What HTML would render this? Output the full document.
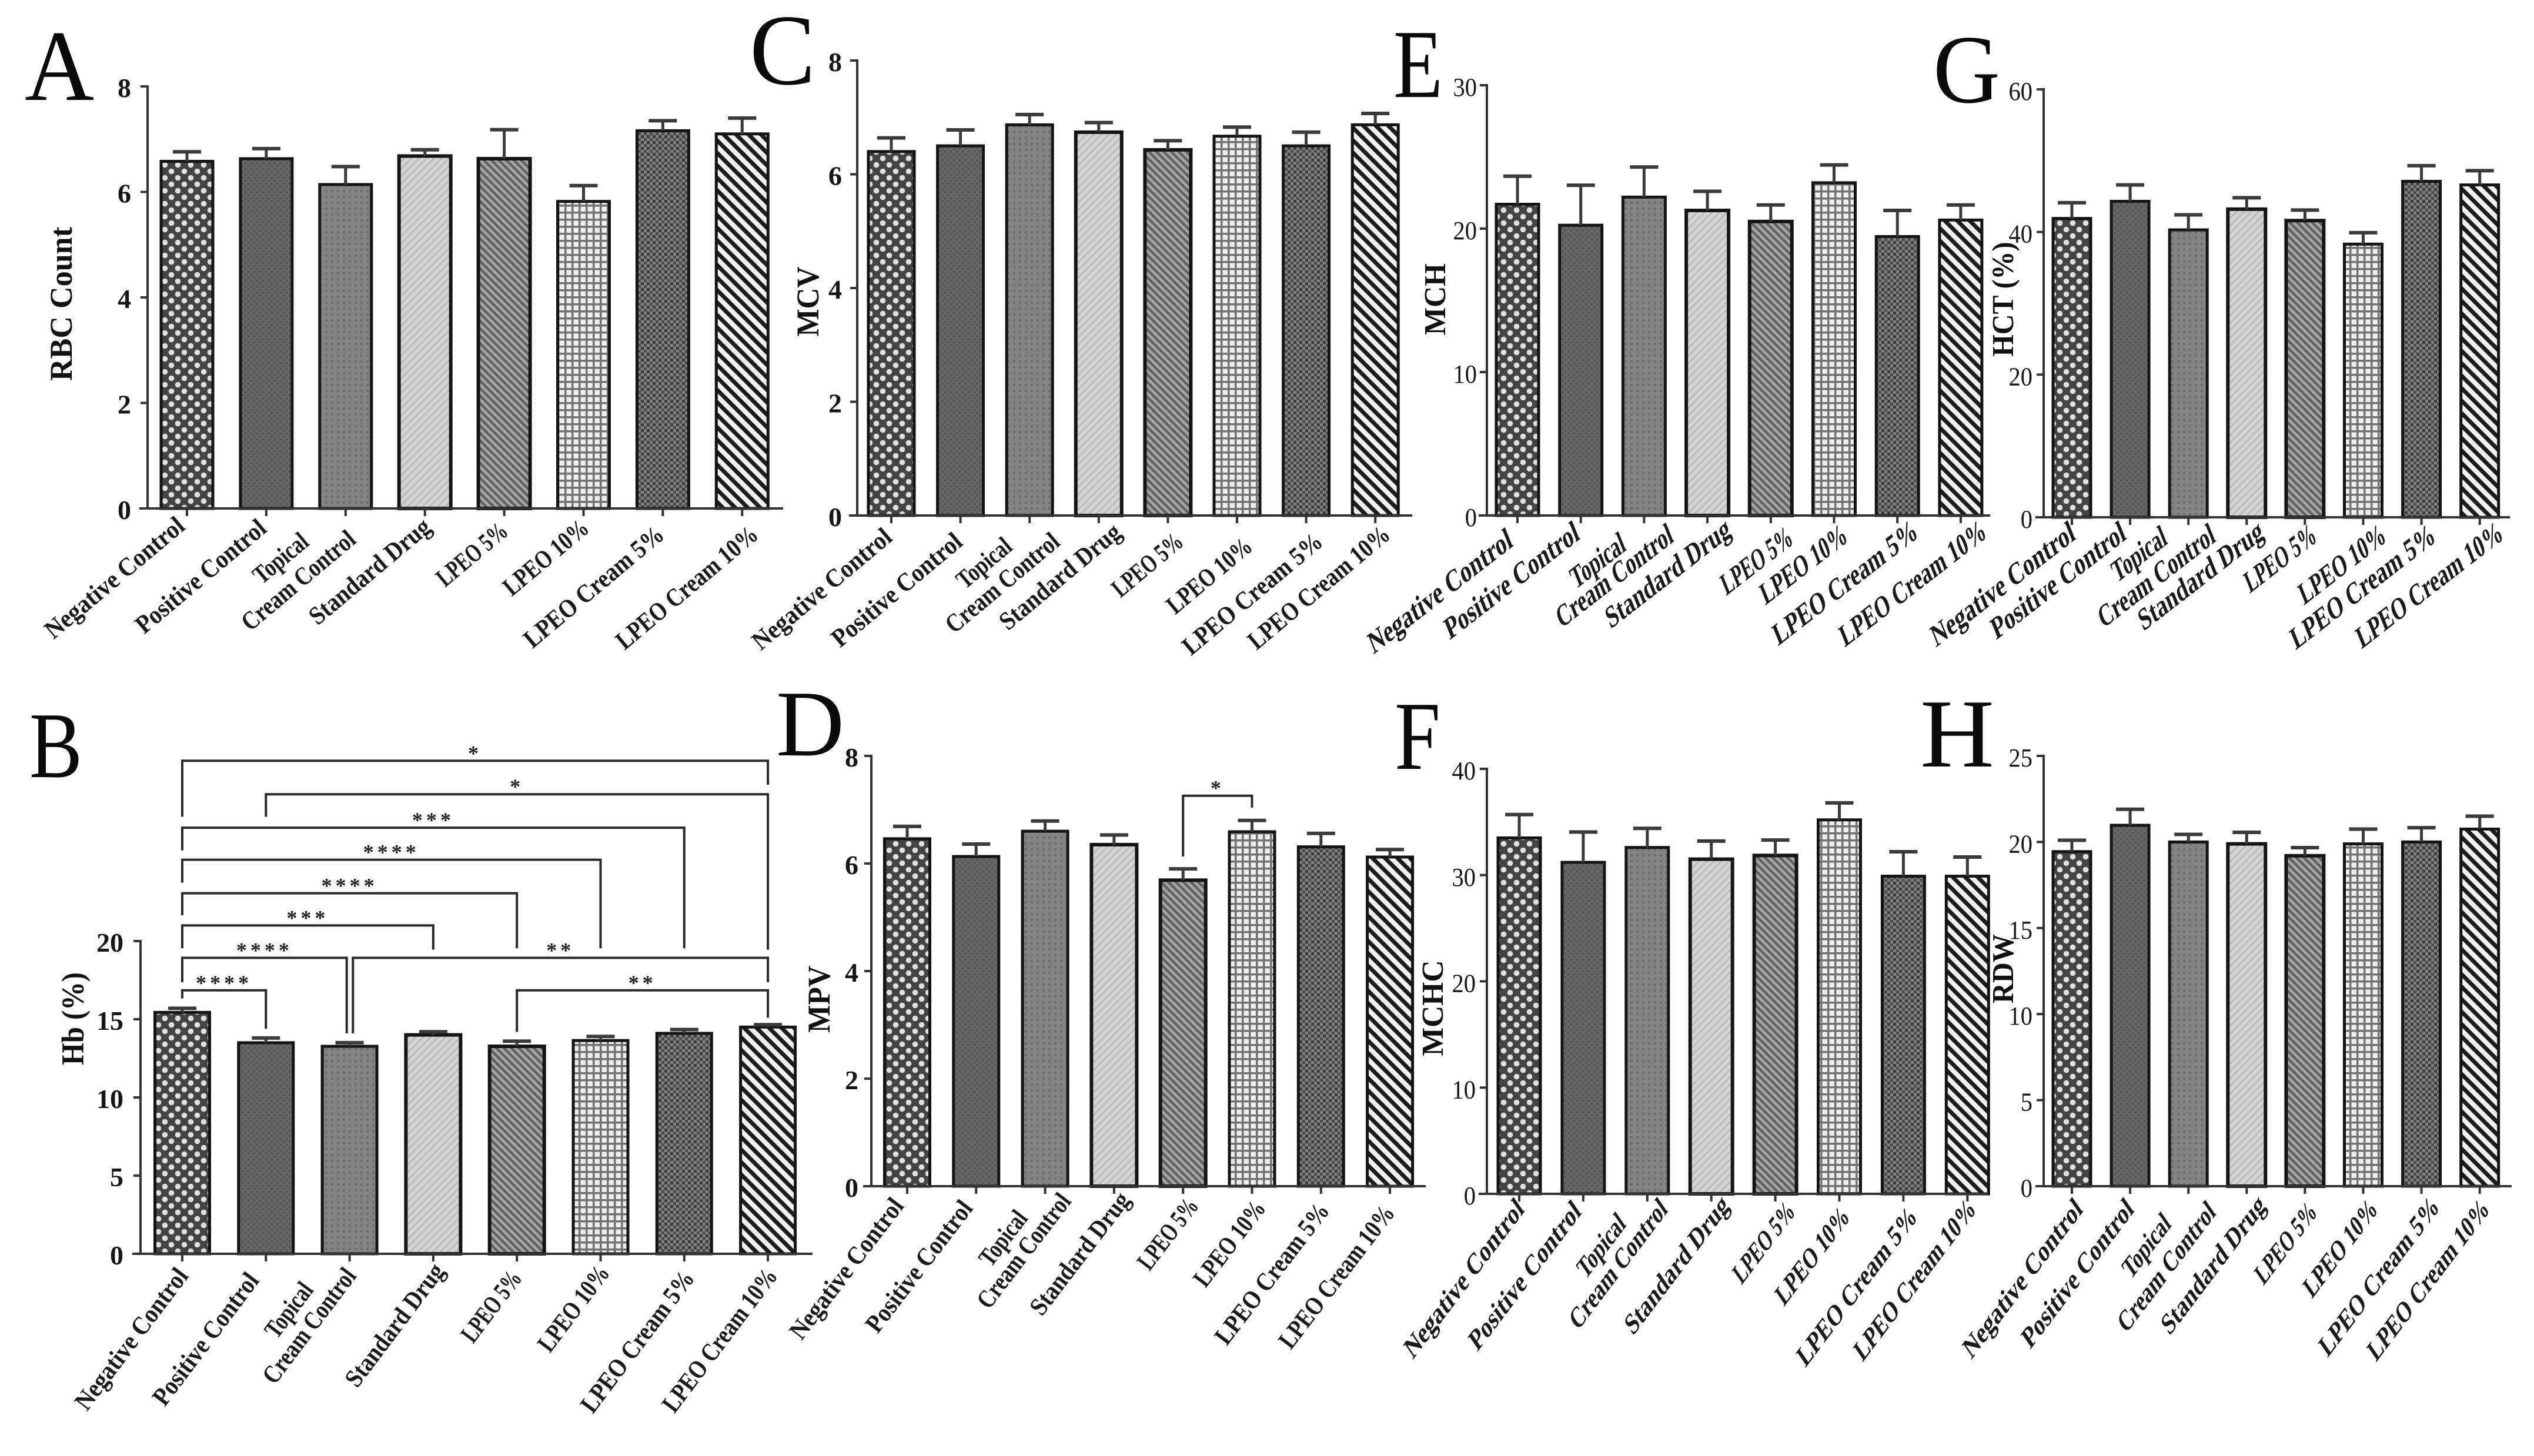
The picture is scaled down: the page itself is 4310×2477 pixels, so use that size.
<!DOCTYPE html>
<html lang="en">
<head>
<meta charset="utf-8">
<title>Hematology parameters bar charts</title>
<style>
html,body{margin:0;padding:0;background:#fff;}
#figure{display:block;width:4310px;height:2477px;background:#fff;font-family:"Liberation Serif",serif;}
.panel-letter{font-family:"Liberation Serif",serif;fill:#0a0a0a;}
.tick-text{fill:#161616;}
.cat-text{font-weight:700;fill:#1a1a1a;}
.axis-title{font-weight:700;fill:#111;}
</style>
</head>
<body>
<svg id="figure" xmlns="http://www.w3.org/2000/svg" width="4310" height="2477" viewBox="0 0 4310 2477">
<defs>
<pattern id="pat-0" patternUnits="userSpaceOnUse" width="22" height="22"><rect width="22" height="22" fill="#444"/><circle cx="5.5" cy="5.5" r="4.8" fill="#e0e0e0"/><circle cx="16.5" cy="16.5" r="4.8" fill="#e0e0e0"/></pattern>
<pattern id="pat-1" patternUnits="userSpaceOnUse" width="10" height="10"><rect width="10" height="10" fill="#666"/><circle cx="2.5" cy="2.5" r="2" fill="#545454"/><circle cx="7.5" cy="7.5" r="2" fill="#545454"/></pattern>
<pattern id="pat-2" patternUnits="userSpaceOnUse" width="10" height="10"><rect width="10" height="10" fill="#848484"/><circle cx="5" cy="5" r="2.4" fill="#6e6e6e"/></pattern>
<pattern id="pat-3" patternUnits="userSpaceOnUse" width="9" height="9" patternTransform="rotate(45)"><rect width="9" height="9" fill="#d4d4d4"/><rect width="3" height="9" fill="#bcbcbc"/></pattern>
<pattern id="pat-4" patternUnits="userSpaceOnUse" width="9" height="9" patternTransform="rotate(-45)"><rect width="9" height="9" fill="#a6a6a6"/><rect width="4.5" height="9" fill="#626262"/></pattern>
<pattern id="pat-5" patternUnits="userSpaceOnUse" width="12" height="12"><rect width="12" height="12" fill="#eee"/><rect width="12" height="3.5" fill="#727272"/><rect width="3.5" height="12" fill="#727272"/></pattern>
<pattern id="pat-6" patternUnits="userSpaceOnUse" width="10" height="10"><rect width="10" height="10" fill="#808080"/><rect width="5" height="5" fill="#3c3c3c"/><rect x="5" y="5" width="5" height="5" fill="#4c4c4c"/></pattern>
<pattern id="pat-7" patternUnits="userSpaceOnUse" width="15" height="15" patternTransform="rotate(-45)"><rect width="15" height="15" fill="#f2f2f2"/><rect width="7" height="15" fill="#1c1c1c"/></pattern>
</defs>

<text class="panel-letter" x="42" y="170" font-size="172" textLength="118" lengthAdjust="spacingAndGlyphs">A</text>
<text class="panel-letter" x="50" y="1322" font-size="160" textLength="90" lengthAdjust="spacingAndGlyphs">B</text>
<text class="panel-letter" x="1275" y="143" font-size="172" textLength="112" lengthAdjust="spacingAndGlyphs">C</text>
<text class="panel-letter" x="1320" y="1285" font-size="160" textLength="116" lengthAdjust="spacingAndGlyphs">D</text>
<text class="panel-letter" x="2370" y="165" font-size="166" textLength="84" lengthAdjust="spacingAndGlyphs">E</text>
<text class="panel-letter" x="2372" y="1308" font-size="166" textLength="78" lengthAdjust="spacingAndGlyphs">F</text>
<text class="panel-letter" x="3288" y="174" font-size="166" textLength="114" lengthAdjust="spacingAndGlyphs">G</text>
<text class="panel-letter" x="3266" y="1304" font-size="166" textLength="126" lengthAdjust="spacingAndGlyphs">H</text>
<g id="charts"></g>
</svg>
<script>
/* Shared categories */
const categories = [["Negative Control"],["Positive Control"],["Topical","Cream Control"],["Standard Drug"],["LPEO 5%"],["LPEO 10%"],["LPEO Cream 5%"],["LPEO Cream 10%"]];

/* Series means and upper error magnitudes */
const rbcMeans  = [6.58,6.63,6.14,6.68,6.63,5.82,7.16,7.10];
const rbcErrors = [0.18,0.19,0.34,0.12,0.55,0.30,0.19,0.30];
const rbcTicks  = [0,2,4,6,8];

const hbMeans  = [15.44,13.50,13.27,14.00,13.27,13.64,14.10,14.50];
const hbErrors = [0.26,0.30,0.23,0.20,0.33,0.26,0.24,0.15];
const hbTicks  = [0,5,10,15,20];

const mcvMeans  = [6.40,6.50,6.87,6.74,6.43,6.67,6.50,6.87];
const mcvErrors = [0.24,0.28,0.18,0.17,0.16,0.16,0.24,0.20];
const mcvTicks  = [0,2,4,6,8];

const mpvMeans  = [6.46,6.13,6.60,6.35,5.69,6.59,6.31,6.12];
const mpvErrors = [0.23,0.23,0.19,0.18,0.21,0.21,0.25,0.14];
const mpvTicks  = [0,2,4,6,8];

const mchMeans  = [21.7,20.24,22.2,21.27,20.5,23.2,19.45,20.6];
const mchErrors = [1.96,2.79,2.1,1.33,1.15,1.24,1.82,1.05];
const mchTicks  = [0,10,20,30];

const mchcMeans  = [33.5,31.2,32.6,31.5,31.85,35.2,29.9,29.9];
const mchcErrors = [2.2,2.85,1.8,1.7,1.45,1.6,2.3,1.8];
const mchcTicks  = [0,10,20,30,40];

const hctMeans  = [41.9,44.3,40.3,43.2,41.6,38.3,47.1,46.6];
const hctErrors = [2.2,2.3,2.1,1.6,1.47,1.6,2.2,2.0];
const hctTicks  = [0,20,40,60];

const rdwMeans  = [19.44,20.97,20.0,19.89,19.2,19.89,20.0,20.75];
const rdwErrors = [0.66,0.93,0.44,0.67,0.47,0.86,0.83,0.75];
const rdwTicks  = [0,5,10,15,20,25];

/* Significance brackets on the Hb panel, in category-index and Hb-value units */
const hbBracketFrom  = [0,1,0,0,0,0,0,2.04,0,4];
const hbBracketTo    = [7,7,6,5,4,3,1.966,7,1,7];
const hbBracketLevel = [31.53,29.39,27.25,25.2,23.06,21.0,18.93,18.93,16.85,16.85];
const hbBracketLeftEnd  = [27.95,27.95,25.8,23.73,21.65,19.54,17.37,14.1,16.33,14.19];
const hbBracketRightEnd = [30.0,19.45,19.54,19.54,19.54,19.45,14.1,17.37,14.4,15.1];
const hbBracketStars = ["*","*","***","****","****","***","****","**","****","**"];

/* Significance bracket on the MPV panel */
const mpvBracketFrom  = [4];
const mpvBracketTo    = [5];
const mpvBracketLevel = [7.26];
const mpvBracketLeftEnd  = [6.13];
const mpvBracketRightEnd = [7.04];
const mpvBracketStars = ["*"];

const NS = "http://www.w3.org/2000/svg";
const root = document.getElementById("charts");
const labelBaseLengths = [295,275,108,238,255,143,175,296,300];

function make(tag, attrs, parent, text) {
  const el = document.createElementNS(NS, tag);
  for (const k in attrs) el.setAttribute(k, attrs[k]);
  if (text !== undefined) el.textContent = text;
  parent.appendChild(el);
  return el;
}

function drawBrackets(g, xScale, yScale, from, to, level, leftEnd, rightEnd, stars) {
  from.forEach((f, i) => {
    const x1 = xScale(f), x2 = xScale(to[i]), y = yScale(level[i]);
    const path = make("path", {
      d: "M" + x1 + " " + yScale(leftEnd[i]) + "V" + y + "H" + x2 + "V" + yScale(rightEnd[i]),
      fill: "none", stroke: "#2a2a2a", "stroke-width": 4
    }, g);
    
    
    const star = make("text", {
      x: (x1 + x2) / 2, y: y - 1, "text-anchor": "middle", "font-size": 36,
      "font-weight": 700, fill: "#222", "letter-spacing": 6
    }, g, stars[i]);
    
    
  });
}

function drawPanel(cfg) {
  const g = make("g", {}, root);
  
  

  const maxTick = cfg.ticks[cfg.ticks.length - 1];
  const yScale = v => cfg.y0 - (cfg.y0 - cfg.yTop) * v / maxTick;
  const xScale = i => cfg.x0 + cfg.step * i;

  /* bars and error bars */
  cfg.means.forEach((m, i) => {
    const bar = make("rect", {
      x: xScale(i) - cfg.barW / 2, y: yScale(m), width: cfg.barW, height: cfg.y0 - yScale(m),
      fill: "url(#pat-" + i + ")", stroke: "#141414", "stroke-width": i === 3 || i === 4 ? 6 : 5
    }, g);
    
    

    const top = yScale(m + cfg.errors[i]);
    const stem = make("line", {
      x1: xScale(i), x2: xScale(i), y1: yScale(m), y2: top, stroke: "#3a3a3a", "stroke-width": 5
    }, g);
    
    

    const cap = make("line", {
      x1: xScale(i) - 24, x2: xScale(i) + 24, y1: top, y2: top, stroke: "#3a3a3a", "stroke-width": 6
    }, g);
    
    
  });

  /* axes */
  const yAxis = make("line", {
    x1: cfg.axisX, x2: cfg.axisX, y1: cfg.yTop - 2, y2: cfg.y0 + 2, stroke: "#333", "stroke-width": 4
  }, g);
  
  

  const xAxis = make("line", {
    x1: cfg.axisX - 14, x2: cfg.axisEnd, y1: cfg.y0, y2: cfg.y0, stroke: "#333", "stroke-width": 4
  }, g);
  
  

  /* y ticks */
  cfg.ticks.forEach(t => {
    const tick = make("line", {
      x1: cfg.axisX - 12, x2: cfg.axisX, y1: yScale(t), y2: yScale(t), stroke: "#333", "stroke-width": 4
    }, g);
    
    

    const label = make("text", {
      class: "tick-text", "text-anchor": "end", "font-size": cfg.tickSize,
      "font-weight": cfg.tickWeight,
      transform: "translate(" + (cfg.axisX - cfg.tickGap) + " " + (yScale(t) + 18) + ") scale(" + cfg.tickSx + " 1)"
    }, g, t);
    
    
  });

  /* category ticks and labels */
  let lineIndex = 0;
  categories.forEach((lines, i) => {
    const tick = make("line", {
      x1: xScale(i), x2: xScale(i), y1: cfg.y0, y2: cfg.y0 + 13, stroke: "#333", "stroke-width": 4
    }, g);
    
    

    lines.forEach(line => {
      const label = make("text", {
        class: "cat-text", "text-anchor": "end", "font-size": cfg.labelSize,
        textLength: labelBaseLengths[lineIndex] * cfg.labelK, lengthAdjust: "spacingAndGlyphs",
        transform: "translate(" + (xScale(i) + cfg.labelEndX[lineIndex]) + " " + (cfg.y0 + cfg.labelEndY[lineIndex]) + ") scale(" + cfg.sx + " 1) rotate(" + (-cfg.labelAngle) + ")"
      }, g, line);
      
      
      lineIndex++;
    });
  });

  /* y-axis title */
  const title = make("text", {
    class: "axis-title", "text-anchor": "middle", "font-size": cfg.titleSize,
    textLength: cfg.titleLen, lengthAdjust: "spacingAndGlyphs",
    transform: "translate(" + cfg.titleX + " " + cfg.titleY + ") rotate(-90)"
  }, g, cfg.title);
  
  

  if (cfg.brackets) {
    const b = cfg.brackets;
    drawBrackets(g, xScale, yScale, b[0], b[1], b[2], b[3], b[4], b[5]);
  }
}

drawPanel({name:"rbc", title:"RBC Count", means:rbcMeans, errors:rbcErrors, ticks:rbcTicks,
  axisX:251, axisEnd:1332, y0:865, yTop:147, x0:318, step:134.9, barW:88,
  tickSize:46, tickGap:28, tickWeight:700, tickSx:1, sx:1, labelSize:44, labelAngle:40, labelK:1,
  labelEndX:[-1,3,-60,20,13,9,12,5,30], labelEndY:[34,38,61,57,36,43,38,49,49],
  titleX:122, titleY:517, titleSize:54, titleLen:262});

drawPanel({name:"hb", title:"Hb (%)", means:hbMeans, errors:hbErrors, ticks:hbTicks,
  axisX:239, axisEnd:1382, y0:2133, yTop:1601, x0:310, step:142.3, barW:93,
  tickSize:46, tickGap:29, tickWeight:700, tickSx:1, sx:1, labelSize:44, labelAngle:53, labelK:0.98,
  labelEndX:[12,-10,-60,13,21,10,17,19,18], labelEndY:[38,46,62,38,30,42,33,42,38],
  titleX:142, titleY:1733, titleSize:54, titleLen:158,
  brackets:[hbBracketFrom,hbBracketTo,hbBracketLevel,hbBracketLeftEnd,hbBracketRightEnd,hbBracketStars]});

drawPanel({name:"mcv", title:"MCV", means:mcvMeans, errors:mcvErrors, ticks:mcvTicks,
  axisX:1458, axisEnd:2402, y0:877, yTop:103, x0:1516, step:117.6, barW:78,
  tickSize:46, tickGap:26, tickWeight:700, tickSx:1, sx:1, labelSize:44, labelAngle:40, labelK:1,
  labelEndX:[4,6,-27,54,41,29,29,31,28], labelEndY:[41,49,57,49,33,49,57,49,37],
  titleX:1392, titleY:513, titleSize:54, titleLen:119});

drawPanel({name:"mpv", title:"MPV", means:mpvMeans, errors:mpvErrors, ticks:mpvTicks,
  axisX:1482, axisEnd:2425, y0:2018, yTop:1286, x0:1543, step:117.3, barW:77,
  tickSize:46, tickGap:22, tickWeight:700, tickSx:1, sx:1, labelSize:44, labelAngle:52.6, labelK:0.98,
  labelEndX:[-4,-4,-28,46,29,28,25,16,10], labelEndY:[34,38,55,26,24,34,38,42,46],
  titleX:1411, titleY:1700, titleSize:54, titleLen:114,
  brackets:[mpvBracketFrom,mpvBracketTo,mpvBracketLevel,mpvBracketLeftEnd,mpvBracketRightEnd,mpvBracketStars]});

drawPanel({name:"mch", title:"MCH", means:mchMeans, errors:mchErrors, ticks:mchTicks,
  axisX:2529, axisEnd:3385, y0:877, yTop:145, x0:2581, step:107.7, barW:72,
  tickSize:44, tickGap:17, tickWeight:400, tickSx:0.92, sx:0.72, labelSize:54, labelAngle:29.2, labelK:1.29,
  labelEndX:[-6,0,-29,52,42,40,25,37,46], labelEndY:[51,39,58,43,33,47,43,36,36],
  titleX:2458, titleY:509, titleSize:52, titleLen:122});

drawPanel({name:"mchc", title:"MCHC", means:mchcMeans, errors:mchcErrors, ticks:mchcTicks,
  axisX:2529, axisEnd:3381, y0:2031, yTop:1308, x0:2584, step:108.9, barW:72,
  tickSize:44, tickGap:19, tickWeight:400, tickSx:0.92, sx:0.72, labelSize:52, labelAngle:43.7, labelK:1.245,
  labelEndX:[10,-2,-35,36,32,35,19,25,16], labelEndY:[29,33,54,29,23,33,42,42,29],
  titleX:2454, titleY:1715, titleSize:52, titleLen:163});

drawPanel({name:"hct", title:"HCT (%)", means:hctMeans, errors:hctErrors, ticks:hctTicks,
  axisX:3476, axisEnd:4269, y0:880, yTop:152, x0:3524, step:99.1, barW:64,
  tickSize:44, tickGap:19, tickWeight:400, tickSx:0.92, sx:0.72, labelSize:54, labelAngle:29.2, labelK:1.29,
  labelEndX:[8,-5,-34,48,31,22,41,26,42], labelEndY:[36,36,44,40,34,40,40,40,36],
  titleX:3424, titleY:509, titleSize:52, titleLen:195});

drawPanel({name:"rdw", title:"RDW", means:rdwMeans, errors:rdwErrors, ticks:rdwTicks,
  axisX:3476, axisEnd:4272, y0:2018, yTop:1286, x0:3524, step:99.1, barW:64,
  tickSize:44, tickGap:19, tickWeight:400, tickSx:0.92, sx:0.72, labelSize:52, labelAngle:43.7, labelK:1.245,
  labelEndX:[20,8,-28,48,34,22,26,32,18], labelEndY:[42,42,67,47,36,47,42,38,42],
  titleX:3424, titleY:1648, titleSize:52, titleLen:118});
</script>
</body>
</html>
